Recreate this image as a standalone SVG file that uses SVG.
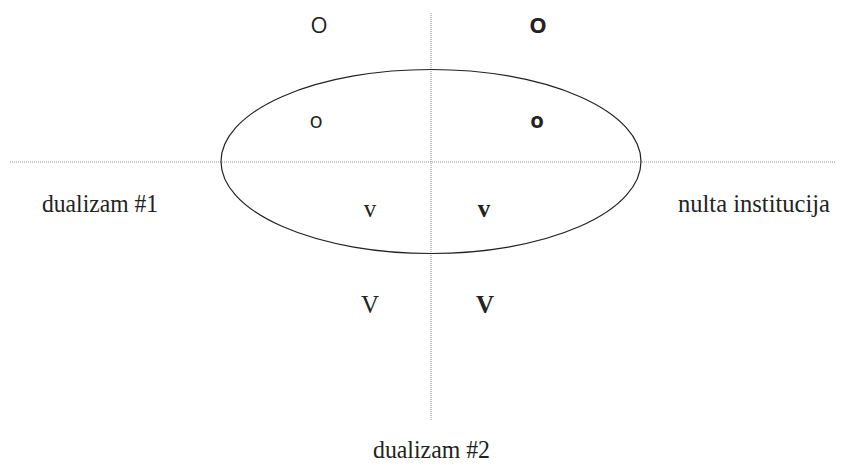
<svg xmlns="http://www.w3.org/2000/svg" width="845" height="465" viewBox="0 0 845 465">
  <style>
    .axis { stroke: #8f8f8f; stroke-width: 1; stroke-dasharray: 1 1; fill: none; }
    .oval { stroke: #222; stroke-width: 1.2; fill: none; }
    .lbl { font-family: "Liberation Serif", "DejaVu Serif", serif; font-size: 25px; fill: #222; }
    .sans { font-family: "Open Sans", "DejaVu Sans", sans-serif; font-size: 22px; fill: #222; }
    .b { font-weight: bold; }
  </style>
  <rect width="845" height="465" fill="#fff"/>
  <g id="axes">
    <line class="axis" x1="431" y1="13" x2="431" y2="421"/>
    <line class="axis" x1="10" y1="162" x2="836" y2="162"/>
  </g>
  <g id="oval">
    <ellipse class="oval" cx="431" cy="161.5" rx="210" ry="92"/>
  </g>
  <g id="quadrants">
    <text class="sans" x="319" y="33" text-anchor="middle">O</text>
    <text class="sans b" x="538" y="33" text-anchor="middle">O</text>
    <text class="sans" x="316" y="128" text-anchor="middle">o</text>
    <text class="sans b" x="537" y="128" text-anchor="middle">o</text>
    <text class="lbl" x="370" y="217" text-anchor="middle">v</text>
    <text class="lbl b" x="484" y="217" text-anchor="middle">v</text>
    <text class="lbl" x="370" y="313" text-anchor="middle">V</text>
    <text class="lbl b" x="485" y="313" text-anchor="middle">V</text>
  </g>
  <g id="labels">
    <text class="lbl" x="42" y="212" textLength="116" lengthAdjust="spacingAndGlyphs">dualizam #1</text>
    <text class="lbl" x="678" y="212" textLength="152" lengthAdjust="spacingAndGlyphs">nulta institucija</text>
    <text class="lbl" x="373" y="458" textLength="117" lengthAdjust="spacingAndGlyphs">dualizam #2</text>
  </g>
</svg>
